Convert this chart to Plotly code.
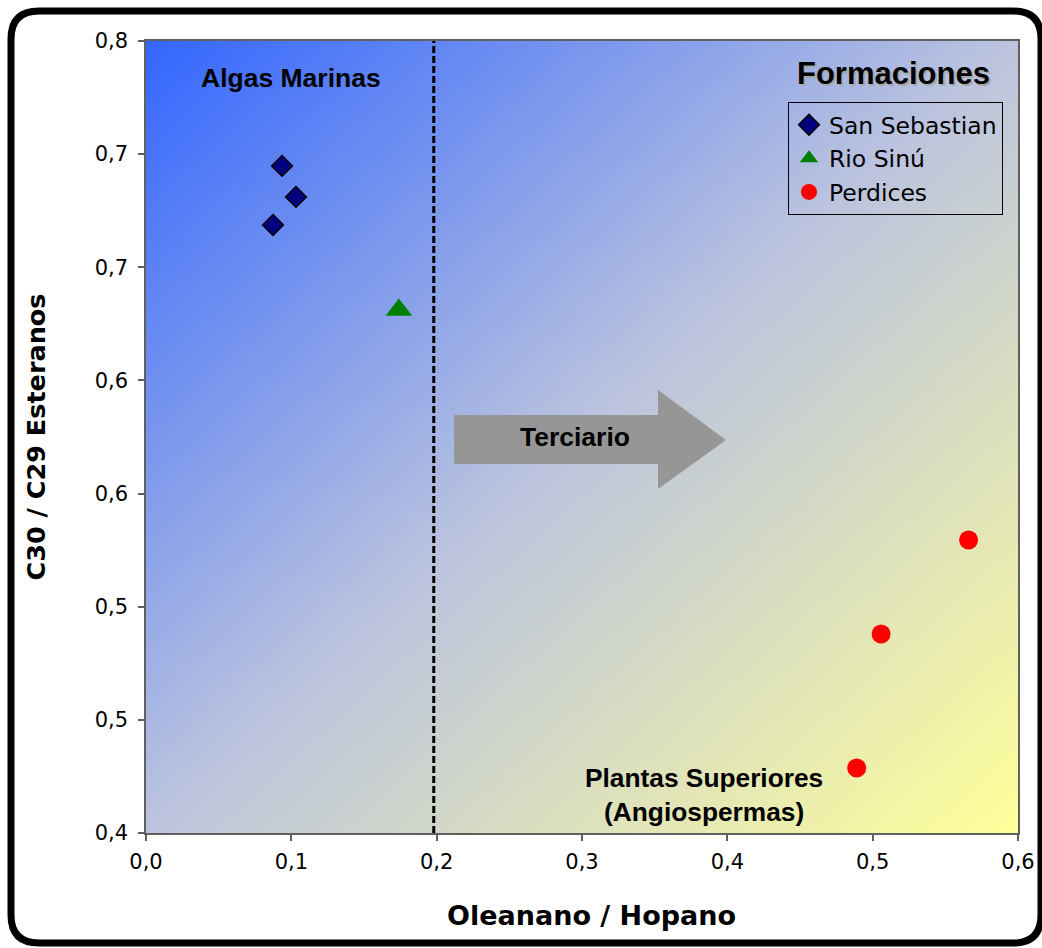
import base64
import plotly.graph_objects as go

# ---------------- data ----------------
san_sebastian_x = [0.0936, 0.1032, 0.0874]
san_sebastian_y = [0.6948, 0.6811, 0.6687]
rio_sinu_x = [0.174]
rio_sinu_y = [0.6311]
perdices_x = [0.566, 0.5058, 0.489]
perdices_y = [0.5295, 0.4879, 0.4287]

x_tickvals = [0.0, 0.1, 0.2, 0.3, 0.4, 0.5, 0.6]
x_ticktext = ["0,0", "0,1", "0,2", "0,3", "0,4", "0,5", "0,6"]
y_tickvals = [0.40, 0.45, 0.50, 0.55, 0.60, 0.65, 0.70, 0.75]
y_ticktext = ["0,4", "0,5", "0,5", "0,6", "0,6", "0,7", "0,7", "0,8"]

boundary_x = 0.198

X_RANGE = [0.0, 0.6]
Y_RANGE = [0.40, 0.75]

# ---------------- figure ----------------
W, H = 1042, 948
ML, MR, MT, MB = 146, 24, 41, 115
PW, PH = W - ML - MR, H - MT - MB

TICK_FONT = dict(family="DejaVu Sans, Verdana, sans-serif", size=21, color="black")
ANN_FONT = "Liberation Sans, Arial, sans-serif"

fig = go.Figure()

fig.add_trace(go.Scatter(
    x=san_sebastian_x, y=san_sebastian_y, mode="markers", name="San Sebastian",
    marker=dict(symbol="diamond", size=16, color="#000080", line=dict(color="black", width=1.5)),
))
fig.add_trace(go.Scatter(
    x=rio_sinu_x, y=rio_sinu_y, mode="markers", name="Rio Sinú",
    marker=dict(symbol="triangle-up", size=23, color="#008000", line=dict(width=0)),
))
fig.add_trace(go.Scatter(
    x=perdices_x, y=perdices_y, mode="markers", name="Perdices",
    marker=dict(symbol="circle", size=19, color="#FF0000", line=dict(width=0)),
))

# gradient background as svg image
svg = (
    '<svg xmlns="http://www.w3.org/2000/svg" width="872" height="792" viewBox="0 0 872 792" preserveAspectRatio="none">'
    '<defs><linearGradient id="g" x1="0" y1="0" x2="1" y2="1">'
    '<stop offset="0" stop-color="#3366FF"/>'
    '<stop offset="0.5" stop-color="#BCC4DE"/>'
    '<stop offset="1" stop-color="#FFFF99"/>'
    '</linearGradient></defs>'
    '<rect x="0" y="0" width="872" height="792" fill="url(#g)"/></svg>'
)
svg_uri = "data:image/svg+xml;base64," + base64.b64encode(svg.encode()).decode()

fig.add_layout_image(dict(
    source=svg_uri, xref="paper", yref="paper", x=0, y=1, sizex=1, sizey=1,
    sizing="stretch", xanchor="left", yanchor="top", layer="below",
))

# dashed boundary line
fig.add_shape(type="line", xref="x", yref="paper", x0=boundary_x, x1=boundary_x, y0=0, y1=1,
              line=dict(color="black", width=3, dash="7px,3px"), layer="above")

# helpers: pixel -> paper
def pxp(px):
    return (px - ML) / PW

def pyp(py):
    return (H - MB - py) / PH

# block arrow "Terciario"
ax = [454, 658, 658, 726, 658, 658, 454]
ay = [415, 415, 390, 440, 489, 464, 464]
path = "M " + " L ".join(f"{pxp(a)},{pyp(b)}" for a, b in zip(ax, ay)) + " Z"
fig.add_shape(type="path", xref="paper", yref="paper", path=path,
              fillcolor="#969696", line=dict(width=0), layer="below")

# rounded outer frame (paper coords)
L, R, T, B = 11, 1041, 11, 943
r = 28
fx0, fx1, fy0, fy1 = pxp(L), pxp(R), pyp(B), pyp(T)
rx, ry = r / PW, r / PH
frame = (
    f"M {fx0+rx},{fy1} L {fx1-rx},{fy1} Q {fx1},{fy1} {fx1},{fy1-ry} "
    f"L {fx1},{fy0+ry} Q {fx1},{fy0} {fx1-rx},{fy0} "
    f"L {fx0+rx},{fy0} Q {fx0},{fy0} {fx0},{fy0+ry} "
    f"L {fx0},{fy1-ry} Q {fx0},{fy1} {fx0+rx},{fy1} Z"
)
fig.add_shape(type="path", xref="paper", yref="paper", path=frame,
              line=dict(color="black", width=7), fillcolor="rgba(0,0,0,0)", layer="above")

# annotations
def ann(text, px, py, size, color="black", xshift=0, yshift=0, bold_family=ANN_FONT):
    fig.add_annotation(text=text, x=pxp(px), y=pyp(py), xref="paper", yref="paper", showarrow=False,
                       font=dict(family=bold_family, size=size, color=color), align="center",
                       xanchor="center", yanchor="middle", xshift=xshift, yshift=yshift)

ann("<b>Algas Marinas</b>", 291, 78, 26.5)
ann("<b>Terciario</b>", 575, 437, 26.5)
ann("<b>Plantas Superiores<br>(Angiospermas)</b>", 704, 795, 26.3)
ann("<b>Formaciones</b>", 893, 74, 31, color="#a8a8a8", xshift=2, yshift=-2)
ann("<b>Formaciones</b>", 893, 74, 31)
# x axis title (placed to match the reference offset)
ann("<b>Oleanano / Hopano</b>", 591, 915, 27, bold_family="DejaVu Sans, Verdana, sans-serif")

fig.update_layout(
    width=W, height=H,
    margin=dict(l=ML, r=MR, t=MT, b=MB, autoexpand=False),
    paper_bgcolor="white",
    plot_bgcolor="rgba(0,0,0,0)",
    showlegend=True,
    legend=dict(
        x=pxp(788), y=pyp(102), xanchor="left", yanchor="top",
        bgcolor="rgba(0,0,0,0)", bordercolor="black", borderwidth=1,
        font=dict(family="DejaVu Sans, Verdana, sans-serif", size=23.5, color="black"),
        itemwidth=30, tracegroupgap=0,
    ),
    xaxis=dict(
        range=X_RANGE, tickvals=x_tickvals, ticktext=x_ticktext,
        showgrid=False, zeroline=False, showline=True, linecolor="#606060", linewidth=1.5,
        mirror=True, ticks="outside", ticklen=6, tickcolor="#606060", tickwidth=1.5,
        tickfont=TICK_FONT, ticklabelstandoff=3,
    ),
    yaxis=dict(
        range=Y_RANGE, tickvals=y_tickvals, ticktext=y_ticktext,
        showgrid=False, zeroline=False, showline=True, linecolor="#606060", linewidth=1.5,
        mirror=True, ticks="outside", ticklen=6, tickcolor="#606060", tickwidth=1.5,
        tickfont=TICK_FONT, ticklabelstandoff=6,
        title=dict(text="<b>C30 / C29 Esteranos</b>",
                   font=dict(family="DejaVu Sans, Verdana, sans-serif", size=25.5, color="black"),
                   standoff=42),
    ),
)

fig.write_html("out.html")
